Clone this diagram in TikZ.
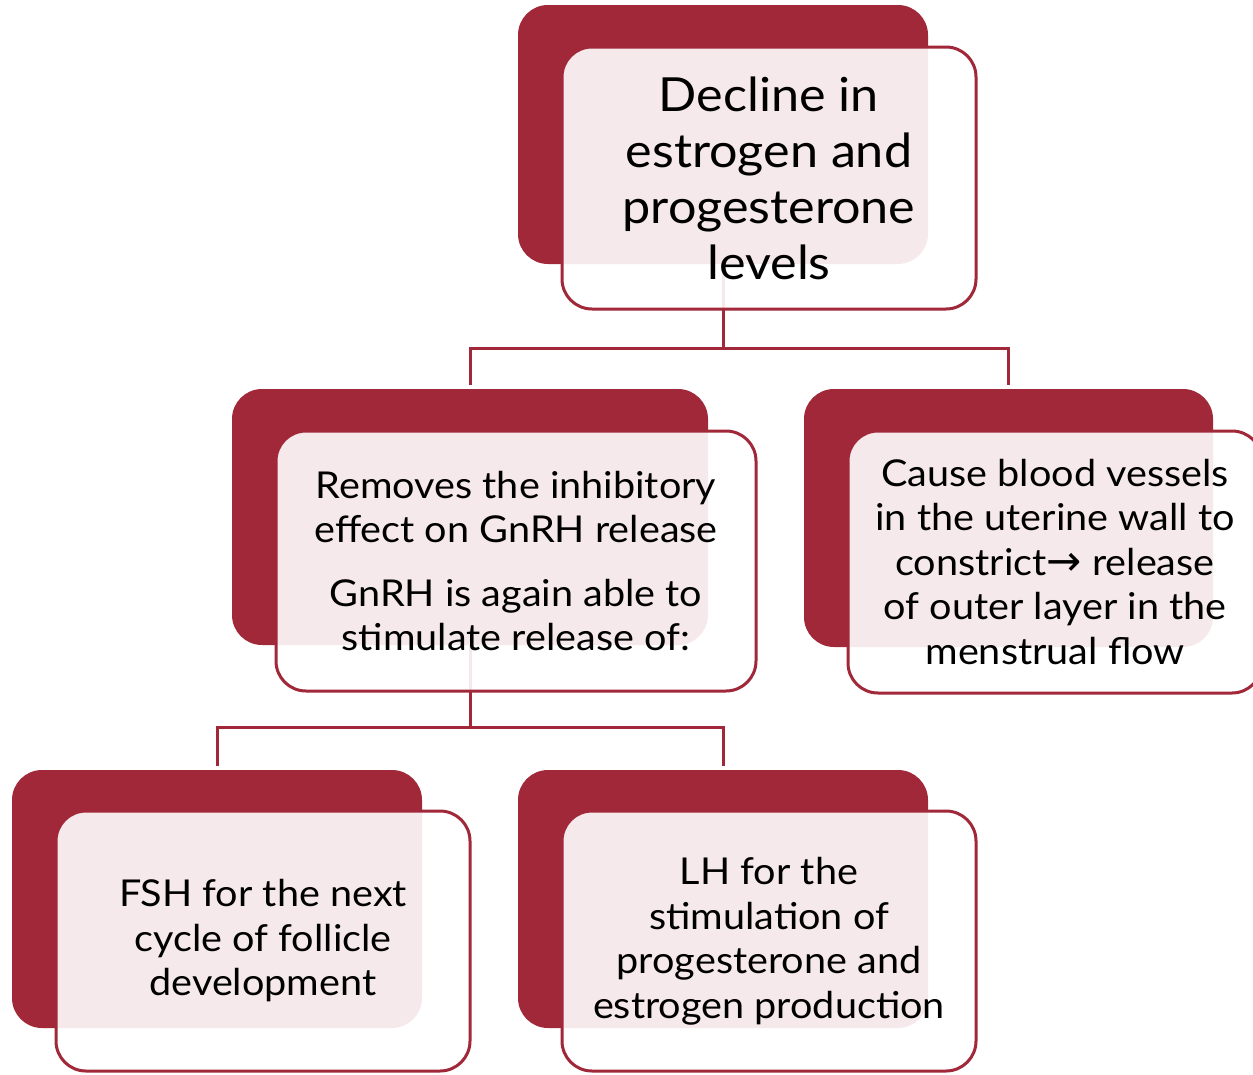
\documentclass[tikz,border=0pt]{standalone}
\usepackage{fontspec}
\setmainfont{Lato}[FakeStretch=1.07]
\newfontfamily\arrowfont{DejaVu Sans}
\definecolor{dred}{HTML}{A02838}
\begin{document}
\begin{tikzpicture}[x=1pt,y=-1pt,
  backbox/.style={fill=dred, rounded corners=30pt, inner sep=0pt},
  frontbox/.style={draw=dred, line width=3pt, fill=white, fill opacity=0.9, text opacity=1,
    rounded corners=30pt, inner sep=0pt, align=center},
  bigtext/.style={font=\fontsize{47}{56}\selectfont},
  smalltext/.style={font=\fontsize{37}{44.5}\selectfont},
  conn/.style={draw=dred, line width=3pt}]
\useasboundingbox (0,0) rectangle (1253,1074);
% back boxes
\node[backbox, minimum width=410pt, minimum height=259pt] (b1) at (723,134.5) {};
\node[backbox, minimum width=476pt, minimum height=256pt] (b2) at (470,517) {};
\node[backbox, minimum width=409pt, minimum height=258pt] (b3) at (1008.5,518) {};
\node[backbox, minimum width=410pt, minimum height=258pt] (b4) at (217,899) {};
\node[backbox, minimum width=410pt, minimum height=258pt] (b5) at (723,899) {};
% connectors
\coordinate (j1) at (723,348);
\coordinate (j2) at (470,727);
\draw[conn] (b1.south) -- (j1);
\draw[conn, shorten >=4pt] (j1) -| (b2.north);
\draw[conn, shorten >=4pt] (j1) -| (b3.north);
\draw[conn] (b2.south) -- (j2);
\draw[conn, shorten >=4pt] (j2) -| (b4.north);
\draw[conn, shorten >=4pt] (j2) -| (b5.north);
% front boxes
\node[frontbox, bigtext, minimum width=414pt, minimum height=262pt] (f1) at (769,178)
  {Decline in\\estrogen and\\progesterone\\levels};
\node[frontbox, smalltext, minimum width=480pt, minimum height=260pt] (f2) at (516,561)
  {Removes the inhibitory\\effect on GnRH release\\[19pt]GnRH is again able to\\stimulate release of:};
\node[frontbox, smalltext, minimum width=414pt, minimum height=262pt] (f3) at (1055,562)
  {Cause blood vessels\\in the uterine wall to\\constrict{\arrowfont\fontsize{42}{44.5}\selectfont →} release\\of outer layer in the\\menstrual flow};
\node[frontbox, smalltext, minimum width=414pt, minimum height=260pt] (f4) at (263,941)
  {FSH for the next\\cycle of follicle\\development};
\node[frontbox, smalltext, minimum width=414pt, minimum height=260pt] (f5) at (769,941)
  {LH for the\\stimulation of\\progesterone and\\estrogen production};
\end{tikzpicture}
\end{document}
